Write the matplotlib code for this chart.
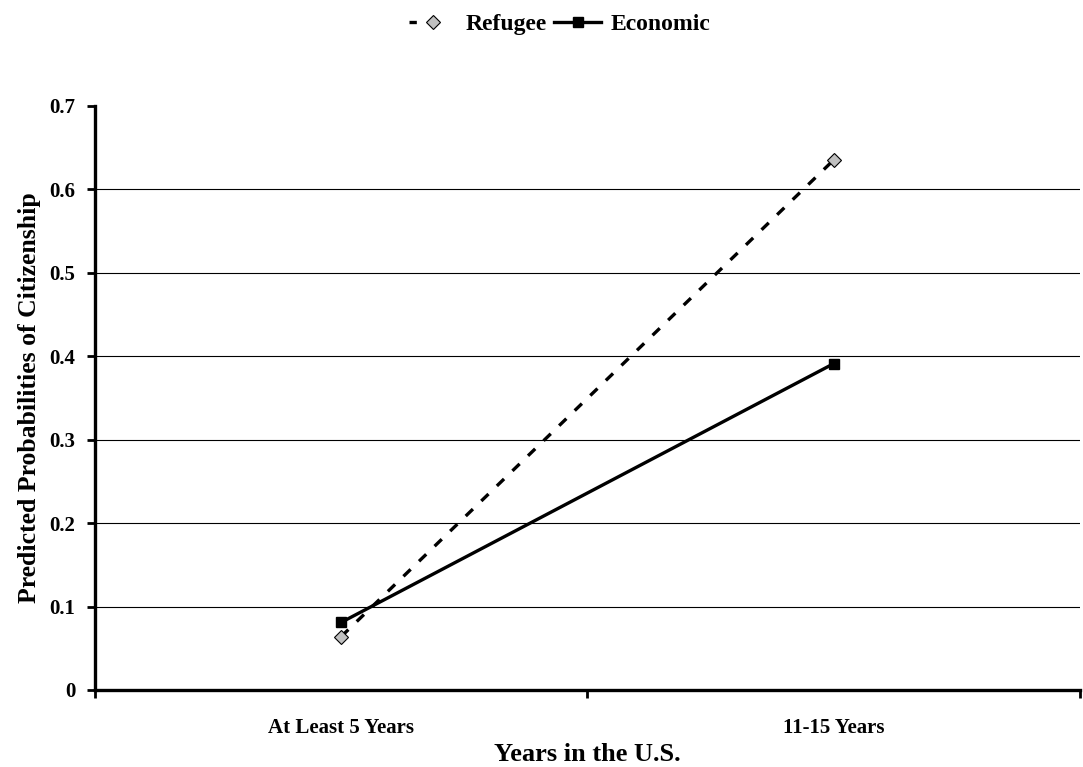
import matplotlib
matplotlib.use('Agg')
import matplotlib.pyplot as plt
from matplotlib import rcParams
from matplotlib.lines import Line2D

rcParams['font.family'] = 'Liberation Serif'
rcParams['font.weight'] = 'bold'

categories = ['At Least 5 Years', '11-15 Years']
refugee = [0.064, 0.635]
economic = [0.081, 0.391]
yticks = [0, 0.1, 0.2, 0.3, 0.4, 0.5, 0.6, 0.7]

fig = plt.figure(figsize=(10.83, 7.67), dpi=100)
ax = fig.add_axes([0.0877, 0.1004, 0.9093, 0.7616])

xs = [0.5, 1.5]
for y in yticks[1:-1]:
    ax.axhline(y, color='black', linewidth=0.8, zorder=1)

p1, = ax.plot(xs, refugee, linestyle=(0, (3, 3.5)), color='black', linewidth=2.4,
              marker='D', markersize=7.5, markerfacecolor='#c0c0c0',
              markeredgecolor='black', markeredgewidth=0.8, zorder=3)
p2, = ax.plot(xs, economic, '-', color='black', linewidth=2.4,
              marker='s', markersize=7.5, markerfacecolor='black',
              markeredgecolor='black', zorder=3)

ax.set_xlim(0, 2)
ax.set_ylim(0, 0.7)
ax.set_yticks(yticks)
ax.set_yticklabels(['0'] + ['%.1f' % v for v in yticks[1:]], fontsize=15, fontweight='bold')

ax.set_xticks([0, 1, 2])
ax.set_xticklabels([])
ax.set_xticks(xs, minor=True)
ax.set_xticklabels(categories, minor=True, fontsize=15, fontweight='bold')
ax.tick_params(axis='x', which='minor', length=0, pad=20)
ax.tick_params(axis='x', which='major', direction='out', length=6, width=2)
ax.tick_params(axis='y', direction='out', length=6, width=2, pad=8)

ax.spines['top'].set_visible(False)
ax.spines['right'].set_visible(False)
ax.spines['left'].set_linewidth(2.4)
ax.spines['bottom'].set_linewidth(2.4)

ax.set_xlabel('Years in the U.S.', fontsize=19, fontweight='bold', labelpad=4)
ax.set_ylabel('Predicted Probabilities of Citizenship', fontsize=18.5, fontweight='bold', labelpad=6)

# legend proxy for the dashed series (only first dash shows in the short handle)
h1 = Line2D([], [], linestyle=(0, (2.2, 30)), color='black', linewidth=2.4,
            marker='D', markersize=7.5, markerfacecolor='#c0c0c0',
            markeredgecolor='black', markeredgewidth=0.8)
fig.legend([h1, p2], ['Refugee', 'Economic'], loc='upper center',
           bbox_to_anchor=(0.517, 1.01), ncol=2, frameon=False,
           prop={'size': 17, 'weight': 'bold'}, handlelength=2.0,
           columnspacing=0.3, handletextpad=0.4)

plt.savefig('out.png')
